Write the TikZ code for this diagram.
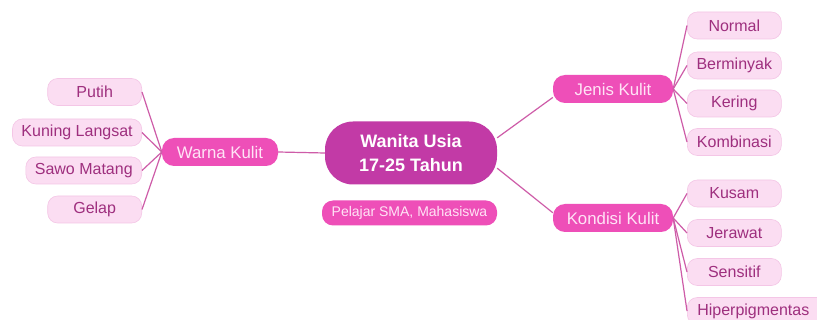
\documentclass[tikz,border=0pt]{standalone}
\usepackage{fontspec}
\setmainfont{Liberation Sans}
\definecolor{centralc}{HTML}{C23AA6}
\definecolor{branchc}{HTML}{EE4FB8}
\definecolor{branchtxt}{HTML}{FFE4F6}
\definecolor{leaffill}{HTML}{FBDDF2}
\definecolor{leafdraw}{HTML}{F4C6E6}
\definecolor{leaftxt}{HTML}{9E2F7E}
\definecolor{linec}{HTML}{CE5CA8}
\begin{document}
\begin{tikzpicture}[x=1pt,y=-1pt,
  central/.style={fill=centralc, text=white, rounded corners=28pt, minimum width=172pt, minimum height=63pt, align=center, font=\fontsize{18}{24}\selectfont\bfseries},
  subnote/.style={fill=branchc, text=branchtxt, rounded corners=11pt, minimum width=175pt, minimum height=25pt, font=\fontsize{14}{16}\selectfont},
  branch/.style={fill=branchc, text=branchtxt, rounded corners=12pt, minimum width=120pt, minimum height=28pt, inner xsep=10pt, font=\fontsize{16.8}{19}\selectfont},
  leaf/.style={fill=leaffill, draw=leafdraw, line width=0.6pt, text=leaftxt, rounded corners=10pt, minimum width=94pt, minimum height=27pt, inner xsep=9pt, font=\fontsize{16}{19}\selectfont},
  conn/.style={draw=linec, line width=1.2pt}]
\useasboundingbox (0,0) rectangle (817,320);
\clip (0,0) rectangle (817,320);
\fill[white] (0,0) rectangle (817,320);

\node[central] (c) at (411,153) {Wanita Usia\\17-25 Tahun};
\node[subnote] (sub) at (409.5,213) {Pelajar SMA, Mahasiswa};

\node[branch, minimum width=116pt] (warna) at (220,152) {Warna Kulit};
\node[branch] (jenis) at (613,89) {Jenis Kulit};
\node[branch] (kondisi) at (613,218) {Kondisi Kulit};

\node[leaf, anchor=east] (putih) at (142,92) {Putih};
\node[leaf, anchor=east] (kuning) at (142,132.5) {Kuning Langsat};
\node[leaf, anchor=east] (sawo) at (142,170.5) {Sawo Matang};
\node[leaf, anchor=east] (gelap) at (142,209.5) {Gelap};

\node[leaf, anchor=west] (normal) at (687,25.5) {Normal};
\node[leaf, anchor=west] (minyak) at (687,65.5) {Berminyak};
\node[leaf, anchor=west] (kering) at (687,103.5) {Kering};
\node[leaf, anchor=west] (kombi) at (687,142) {Kombinasi};

\node[leaf, anchor=west] (kusam) at (687,193.5) {Kusam};
\node[leaf, anchor=west] (jerawat) at (687,233) {Jerawat};
\node[leaf, anchor=west] (sensitif) at (687,272) {Sensitif};
\node[leaf, anchor=west, minimum width=140pt, text width=120pt, align=left] (hiper) at (687,311) {Hiperpigmentas};

\draw[conn] (warna.east) -- (c.west);
\draw[conn] (c.10) -- (jenis.188);
\draw[conn] (c.-10) -- (kondisi.175);

\foreach \l in {putih,kuning,sawo,gelap}
  \draw[conn] (\l.east) -- (warna.west);
\foreach \l in {normal,minyak,kering,kombi}
  \draw[conn] (jenis.east) -- (\l.west);
\foreach \l in {kusam,jerawat,sensitif,hiper}
  \draw[conn] (kondisi.east) -- (\l.west);
\end{tikzpicture}
\end{document}
